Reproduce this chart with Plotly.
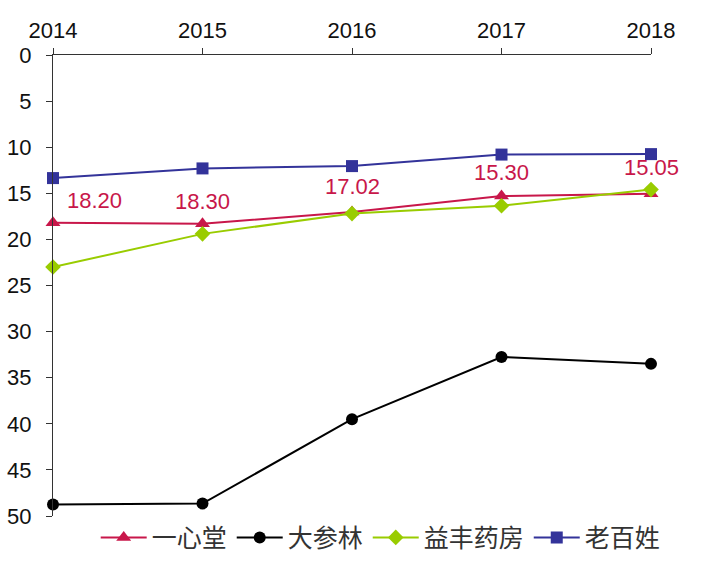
import plotly.graph_objects as go

years = [2014, 2015, 2016, 2017, 2018]
yixintang = [18.20, 18.30, 17.02, 15.30, 15.05]
dashenlin = [48.75, 48.65, 39.5, 32.75, 33.5]
yifeng = [23.0, 19.4, 17.2, 16.35, 14.6]
laobaixing = [13.35, 12.3, 12.05, 10.8, 10.75]
label_texts = ["18.20", "18.30", "17.02", "15.30", "15.05"]

names = ["一心堂", "大参林", "益丰药房", "老百姓"]
colors = ["#C8174A", "#000000", "#99CC00", "#33339A"]
symbols = ["triangle-up", "circle", "diamond", "square"]
sizes = [13, 12, 12, 12]
series = [yixintang, dashenlin, yifeng, laobaixing]

NUMFONT = "Liberation Sans, Arial"

fig = go.Figure()
for n, c, s, sz, v in zip(names, colors, symbols, sizes, series):
    fig.add_trace(go.Scatter(
        x=years, y=v, name=n, mode="lines+markers",
        line=dict(color=c, width=2),
        marker=dict(color=c, symbol=s, size=sz),
        cliponaxis=False,
    ))

# data labels for 一心堂
xshifts = [41, 0, 0, 0, 0]
yshifts = [22, 22, 25, 24, 26]
for x, y, t, xs, ys in zip(years, yixintang, label_texts, xshifts, yshifts):
    fig.add_annotation(x=x, y=y, text=t, showarrow=False, xshift=xs, yshift=ys,
                       font=dict(color="#C8174A", size=22, family=NUMFONT))

fig.update_layout(
    width=704, height=578,
    margin=dict(l=53, r=53, t=55, b=62, autoexpand=False),
    paper_bgcolor="white", plot_bgcolor="white",
    font=dict(family=NUMFONT, size=22, color="#111"),
    showlegend=True,
    legend=dict(orientation="h", x=0.548, xanchor="center", y=-0.047, yanchor="middle",
                font=dict(size=25, color="#333", family="Noto Sans CJK SC"),
                itemwidth=46, tracegroupgap=0, bgcolor="rgba(0,0,0,0)"),
)
fig.update_xaxes(
    side="top", range=[2014, 2018], tickvals=years, ticktext=[str(y) for y in years],
    showline=True, linecolor="#333", linewidth=1, ticks="outside", ticklen=6,
    tickcolor="#333", showgrid=False, zeroline=False, ticklabelstandoff=1,
    automargin=False,
    tickfont=dict(size=22, color="#111", family=NUMFONT),
)
fig.update_yaxes(
    range=[50, 0], dtick=5, tick0=0,
    showline=True, linecolor="#333", linewidth=1, ticks="outside", ticklen=6,
    tickcolor="#333", showgrid=False, zeroline=False, ticklabelstandoff=10,
    automargin=False,
    tickfont=dict(size=22, color="#111", family=NUMFONT),
)

fig.write_html("out.html")
